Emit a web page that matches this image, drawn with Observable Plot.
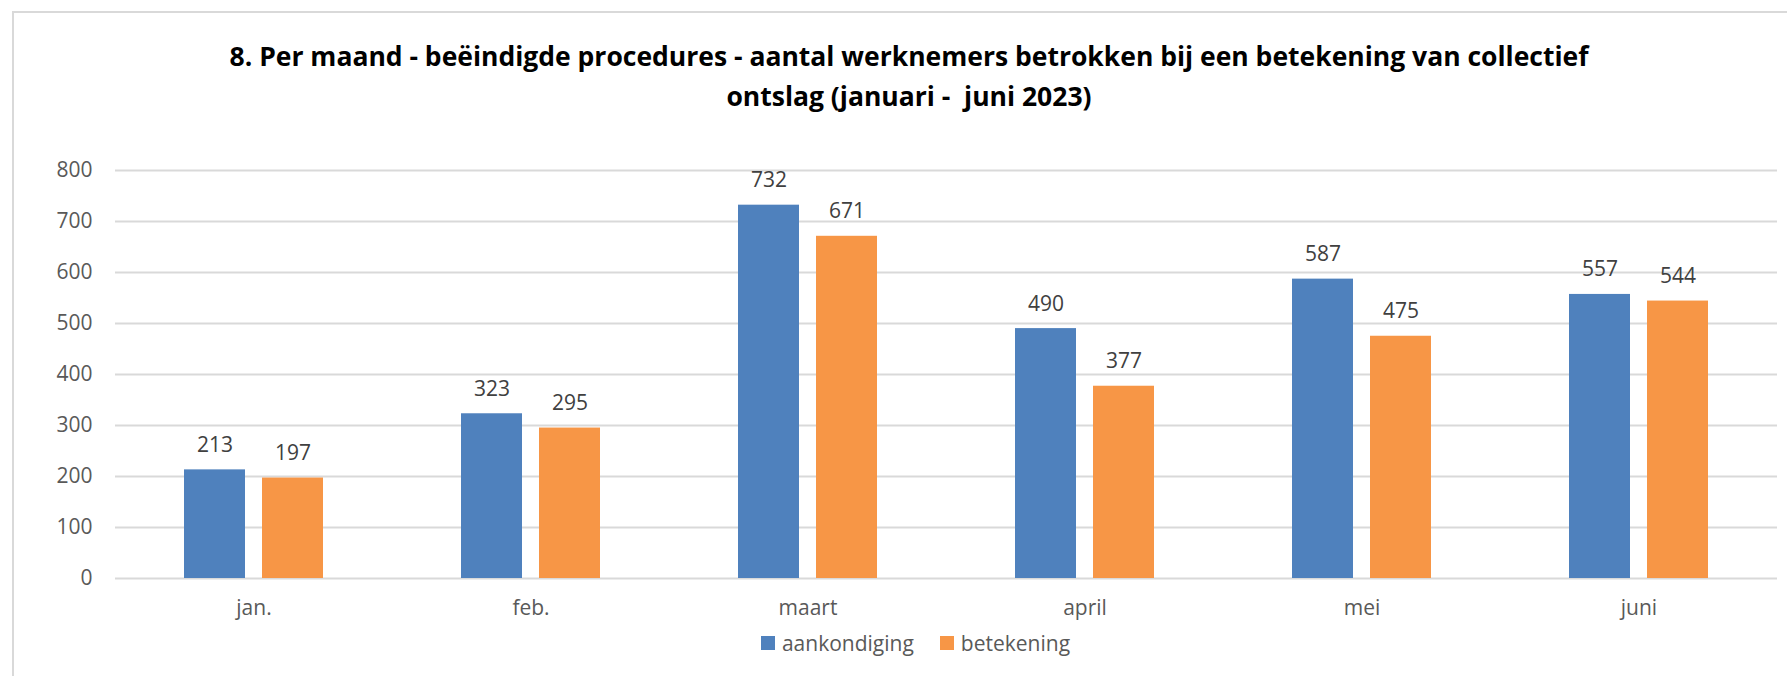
<!DOCTYPE html>
<html>
<head>
<meta charset="utf-8">
<script src="https://cdn.jsdelivr.net/npm/d3@7"></script>
<script src="https://cdn.jsdelivr.net/npm/@observablehq/plot@0.6"></script>
<style>
  html, body { margin: 0; padding: 0; background: #fff; }
  body { width: 1787px; height: 676px; position: relative; overflow: hidden; font-family: "Open Sans", sans-serif; }
  #frame { position: absolute; left: 12px; top: 11px; width: 1800px; height: 700px; border: 2px solid #d9d9d9; box-sizing: border-box; }
  #title { position: absolute; left: 0; top: 36px; width: 1818px; text-align: center; font-family: "Open Sans", sans-serif; font-weight: bold; font-size: 26.5px; line-height: 40px; color: #000; }
  #chart { position: absolute; left: 0; top: 130px; }
  #legend { position: absolute; left: 0; top: 629px; width: 1787px; display: flex; justify-content: center; gap: 26px; font-size: 21px; color: #595959; padding-left: 44px; box-sizing: border-box; }
  .item { display: flex; align-items: center; gap: 7px; }
  .sw { width: 14px; height: 14px; display: inline-block; }
</style>
</head>
<body>
<div id="frame"></div>
<div id="title">8. Per maand - beëindigde procedures - aantal werknemers betrokken bij een betekening van collectief<br>ontslag (januari - &nbsp;juni 2023)</div>
<div id="chart"></div>
<div id="legend"></div>
<script>
const months = ["jan.", "feb.", "maart", "april", "mei", "juni"];
const series = ["aankondiging", "betekening"];
const aankondiging = [213, 323, 732, 490, 587, 557];
const betekening = [197, 295, 671, 377, 475, 544];
const colors = ["#4f81bd", "#f79646"];
const yTicks = [0, 100, 200, 300, 400, 500, 600, 700, 800];

const data = [];
months.forEach((m, i) => {
  data.push({month: m, series: series[0], value: aankondiging[i]});
  data.push({month: m, series: series[1], value: betekening[i]});
});

const chart = Plot.plot({
  width: 1787,
  height: 500,
  marginLeft: 112,
  marginRight: 8,
  marginTop: 40,
  marginBottom: 52,
  style: {fontFamily: "Open Sans, sans-serif", fontSize: "21px", color: "#595959", background: "transparent"},
  fx: {domain: months, padding: 0, label: null, tickSize: 0, tickPadding: 22},
  x: {domain: series, paddingInner: 0.215, paddingOuter: 0.866, axis: null},
  y: {domain: [0, 800], ticks: yTicks, tickSize: 0, tickPadding: 23, label: null, tickFormat: d3.format("d")},
  color: {domain: series, range: colors},
  marks: [
    Plot.ruleY(yTicks, {stroke: "#d9d9d9", strokeWidth: 2}),
    Plot.barY(data, {fx: "month", x: "series", y: "value", fill: "series"}),
    Plot.text(data, {fx: "month", x: "series", y: "value", text: d => String(d.value), lineAnchor: "bottom", dy: -18, fill: "#404040", fontSize: 21})
  ]
});
document.getElementById("chart").appendChild(chart);

const legend = document.getElementById("legend");
series.forEach((s, i) => {
  const it = document.createElement("div");
  it.className = "item";
  const sw = document.createElement("span");
  sw.className = "sw";
  sw.style.background = colors[i];
  const t = document.createElement("span");
  t.textContent = s;
  it.appendChild(sw);
  it.appendChild(t);
  legend.appendChild(it);
});
</script>
</body>
</html>
